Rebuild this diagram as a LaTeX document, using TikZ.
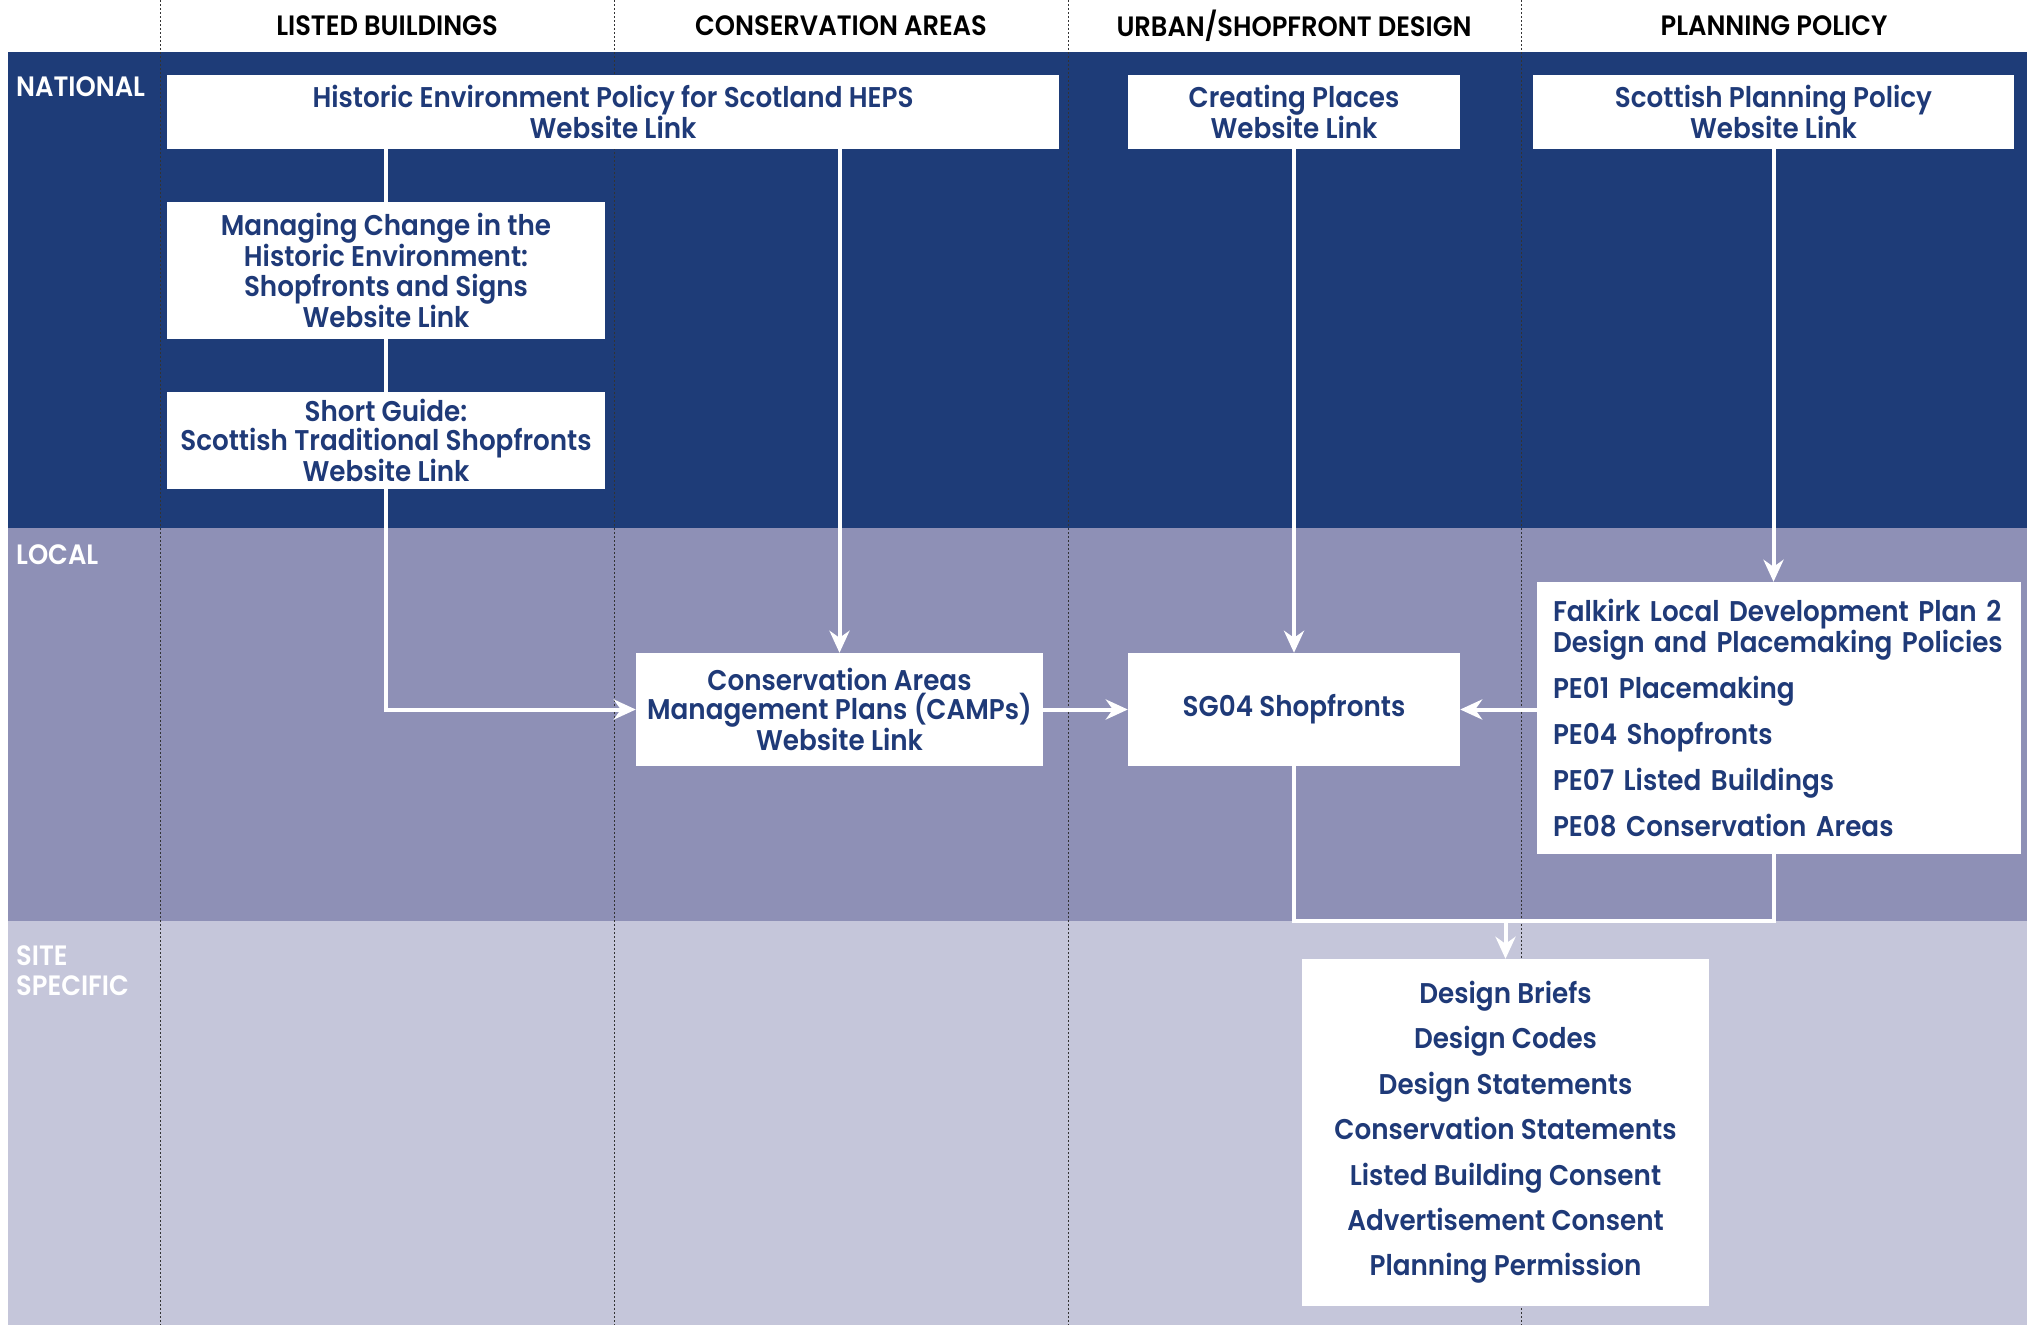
\documentclass[tikz,border=0pt]{standalone}
\usepackage{fontspec}
\setmainfont{Poppins}[UprightFont=* Medium, BoldFont=* SemiBold, FakeStretch=0.92]
\usetikzlibrary{arrows.meta}
\definecolor{navy}{HTML}{1E3C78}
\definecolor{localc}{HTML}{8E90B6}
\definecolor{sitec}{HTML}{C5C6DA}
\definecolor{txt}{HTML}{1F3A78}
\begin{document}
\begin{tikzpicture}[x=1pt,y=-1pt,
  box/.style={fill=white, draw=none, text=txt, align=center, inner sep=0pt,
    font=\bfseries\fontsize{28.5}{29.5}\selectfont},
  hdr/.style={font=\bfseries\fontsize{28}{30}\selectfont, text=black, inner sep=0pt},
  lvl/.style={font=\bfseries\fontsize{28}{30}\selectfont, text=white, anchor=west, align=left, inner sep=0pt},
  divider/.style={black!80, line width=0.9pt, dash pattern=on 2pt off 2pt},
  flow/.style={white, line width=4pt},
  arr/.style={flow, -{Stealth[length=22pt,width=20pt,inset=7pt]}}
]
\useasboundingbox (0,0) rectangle (2035,1325);
\fill[white] (0,0) rectangle (2035,1325);
% bands
\fill[navy] (8,52) rectangle (2027,528);
\fill[localc] (8,528) rectangle (2027,921);
\fill[sitec] (8,921) rectangle (2027,1325);
% dividers
\foreach \x in {160,614,1068,1521} \draw[divider] (\x,0) -- (\x,1325);
% headers
\node[hdr] (h1) at (387,26) {LISTED BUILDINGS};
\node[hdr] (h2) at (841,26) {CONSERVATION AREAS};
\node[hdr] (h3) at (1294,26) {URBAN/SHOPFRONT DESIGN};
\node[hdr] (h4) at (1774,26) {PLANNING POLICY};
% level labels
\node[lvl] (lnat) at (16,87) {NATIONAL};
\node[lvl] (lloc) at (16,555) {LOCAL};
\node[lvl] (lsite) at (16,971) {SITE\\SPECIFIC};
% boxes
\node[box, minimum width=892pt, minimum height=74pt] (heps) at (613,112)
  {Historic Environment Policy for Scotland HEPS\\Website Link};
\node[box, minimum width=332pt, minimum height=74pt] (cp) at (1294,112)
  {Creating Places\\Website Link};
\node[box, minimum width=481pt, minimum height=74pt] (spp) at (1773.5,112)
  {Scottish Planning Policy\\Website Link};
\node[box, minimum width=438pt, minimum height=137pt] (mc) at (386,270.5)
  {Managing Change in the\\Historic Environment:\\Shopfronts and Signs\\Website Link};
\node[box, minimum width=438pt, minimum height=97pt] (sg) at (386,440.5)
  {Short Guide:\\Scottish Traditional Shopfronts\\Website Link};
\node[box, minimum width=407pt, minimum height=113pt] (camps) at (839.5,709.5)
  {Conservation Areas\\Management Plans (CAMPs)\\Website Link};
\node[box, minimum width=332pt, minimum height=113pt] (sg04) at (1294,709.5)
  {SG04 Shopfronts};
\node[box, minimum width=484pt, minimum height=272pt, text width=452pt, align=left, inner xsep=16pt] (falk) at (1779,718)
  {Falkirk Local Development Plan 2\\Design and Placemaking Policies\\[15pt]
   PE01 Placemaking\\[15pt]PE04 Shopfronts\\[15pt]PE07 Listed Buildings\\[15pt]PE08 Conservation Areas};
\node[box, minimum width=407pt, minimum height=347pt, font=\bfseries\fontsize{28.5}{45.4}\selectfont] (site) at (1505.5,1132.5)
  {Design Briefs\\Design Codes\\Design Statements\\Conservation Statements\\Listed Building Consent\\Advertisement Consent\\Planning Permission};
% connectors
\coordinate (mL) at (1294,921);
\coordinate (mR) at (1774,921);
\coordinate (mM) at (1505.5,921);
\draw[flow] (heps.south -| mc.north) -- (mc.north);
\draw[flow] (mc.south) -- (sg.north);
\draw[arr] (sg.south) |- (camps.west);
\draw[arr] (heps.south -| camps.north) -- (camps.north);
\draw[arr] (camps.east) -- (sg04.west);
\draw[arr] (cp.south) -- (sg04.north);
\draw[arr] (spp.south) -- (spp.south |- falk.north);
\draw[arr] (falk.west |- sg04.east) -- (sg04.east);
\draw[flow, line join=miter] (sg04.south) -- (mL) -- (mR) -- (mR |- falk.south);
\draw[arr] (mM) -- (site.north);
\end{tikzpicture}
\end{document}
